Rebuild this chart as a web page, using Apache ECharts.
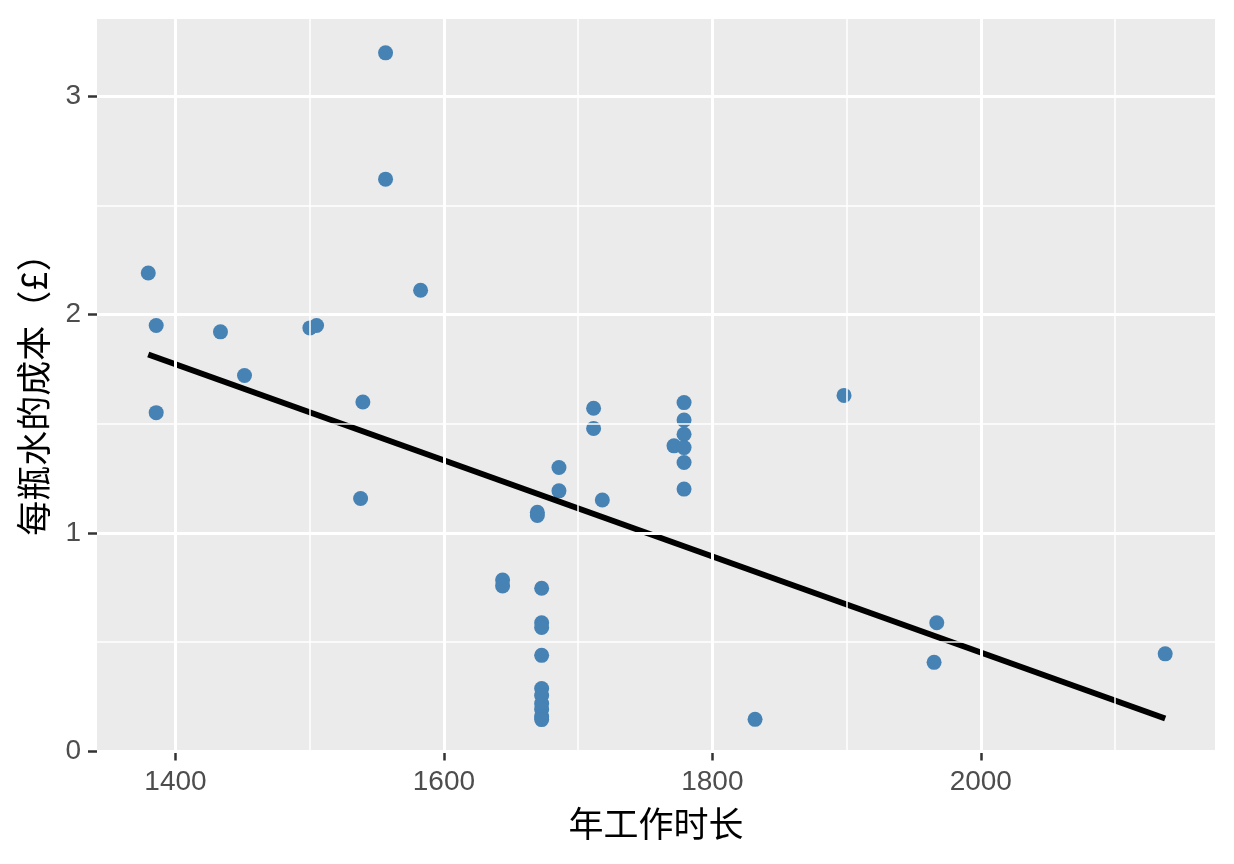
<!DOCTYPE html>
<html>
<head>
<meta charset="utf-8">
<script src="https://cdn.jsdelivr.net/npm/echarts@6/dist/echarts.min.js"></script>
<style>
html,body{margin:0;padding:0;background:#fff;}
#chart{width:1234px;height:864px;}
</style>
</head>
<body>
<div id="chart"></div>
<script>
// ---- data ----
const hours = [
  1379.7, 1385.6, 1385.6, 1433.5, 1451.4, 1500.1, 1505.1, 1556.5, 1556.5, 1582.6,
  1539.6, 1537.9, 1643.7, 1643.7, 1669.6, 1669.6, 1672.8, 1672.8, 1672.8, 1672.8,
  1672.8, 1672.8, 1672.8, 1672.8, 1672.8, 1672.8, 1685.7, 1685.7, 1711.5, 1711.5,
  1718.0, 1771.4, 1778.9, 1778.9, 1778.9, 1778.9, 1778.9, 1778.9, 1831.8, 1898.1,
  1965.2, 1967.2, 2137.4
];
const costs = [
  2.190, 1.950, 1.551, 1.921, 1.721, 1.939, 1.950, 3.198, 2.620, 2.111,
  1.600, 1.158, 0.785, 0.758, 1.095, 1.080, 0.747, 0.589, 0.568, 0.440,
  0.288, 0.256, 0.219, 0.192, 0.160, 0.146, 1.300, 1.193, 1.571, 1.479,
  1.151, 1.399, 1.597, 1.517, 1.452, 1.391, 1.323, 1.201, 0.147, 1.630,
  0.408, 0.589, 0.447
];
const trendHours = [1379.7, 2137.4];
const trendCosts = [1.817, 0.151];

const xTicks = [1400, 1600, 1800, 2000];
const xMinor = [1500, 1700, 1900, 2100];
const yTicks = [0, 1, 2, 3];
const yMinor = [0.5, 1.5, 2.5];

const xTitle = '年工作时长';
const yTitle = '每瓶水的成本（£）';

// ---- chart ----
const FONT = '"Liberation Sans", Arial, "Noto Sans CJK SC", sans-serif';
const CJK = '"Noto Sans CJK SC", "Liberation Sans", sans-serif';

const gridLines = [];
xMinor.forEach(v => gridLines.push({xAxis: v, lineStyle: {width: 1.5}}));
yMinor.forEach(v => gridLines.push({yAxis: v, lineStyle: {width: 1.5}}));
xTicks.forEach(v => gridLines.push({xAxis: v, lineStyle: {width: 3}}));
yTicks.forEach(v => gridLines.push({yAxis: v, lineStyle: {width: 3}}));

const chart = echarts.init(document.getElementById('chart'), null, {renderer: 'canvas'});
chart.setOption({
  animation: false,
  backgroundColor: '#ffffff',
  grid: {
    left: 97, right: 19, top: 19, bottom: 111,
    show: true, backgroundColor: '#EBEBEB', borderWidth: 0
  },
  xAxis: {
    type: 'value',
    min: 1341.5, max: 2174.5,
    name: xTitle,
    nameLocation: 'middle',
    nameGap: 53,
    nameTextStyle: {fontSize: 35, color: '#000', fontFamily: CJK},
    axisLine: {show: false},
    axisTick: {show: true, length: 9, customValues: xTicks, lineStyle: {color: '#333333', width: 2.5}},
    axisLabel: {customValues: xTicks, fontSize: 28, color: '#4D4D4D', fontFamily: FONT, margin: 15,
      formatter: v => String(v)},
    splitLine: {show: false}
  },
  yAxis: {
    type: 'value',
    min: -0.007, max: 3.353,
    name: yTitle,
    nameLocation: 'middle',
    nameGap: 46,
    nameRotate: 90,
    nameTextStyle: {fontSize: 35, color: '#000', fontFamily: CJK},
    axisLine: {show: false},
    axisTick: {show: true, length: 9, customValues: yTicks, lineStyle: {color: '#333333', width: 2.5}},
    axisLabel: {customValues: yTicks, fontSize: 28, color: '#4D4D4D', fontFamily: FONT, margin: 16,
      formatter: v => String(v)},
    splitLine: {show: false}
  },
  series: [
    {
      type: 'scatter',
      data: [],
      z: 1,
      silent: true,
      markLine: {
        silent: true,
        symbol: ['none', 'none'],
        label: {show: false},
        lineStyle: {color: '#ffffff', type: 'solid'},
        data: gridLines
      }
    },
    {
      type: 'scatter',
      z: 2,
      symbolSize: 15,
      itemStyle: {color: '#4682B4', opacity: 1},
      data: hours.map((h, i) => [h, costs[i]])
    },
    {
      type: 'line',
      z: 3,
      symbol: 'none',
      lineStyle: {color: '#000000', width: 6},
      data: trendHours.map((h, i) => [h, trendCosts[i]])
    }
  ]
});
</script>
</body>
</html>
